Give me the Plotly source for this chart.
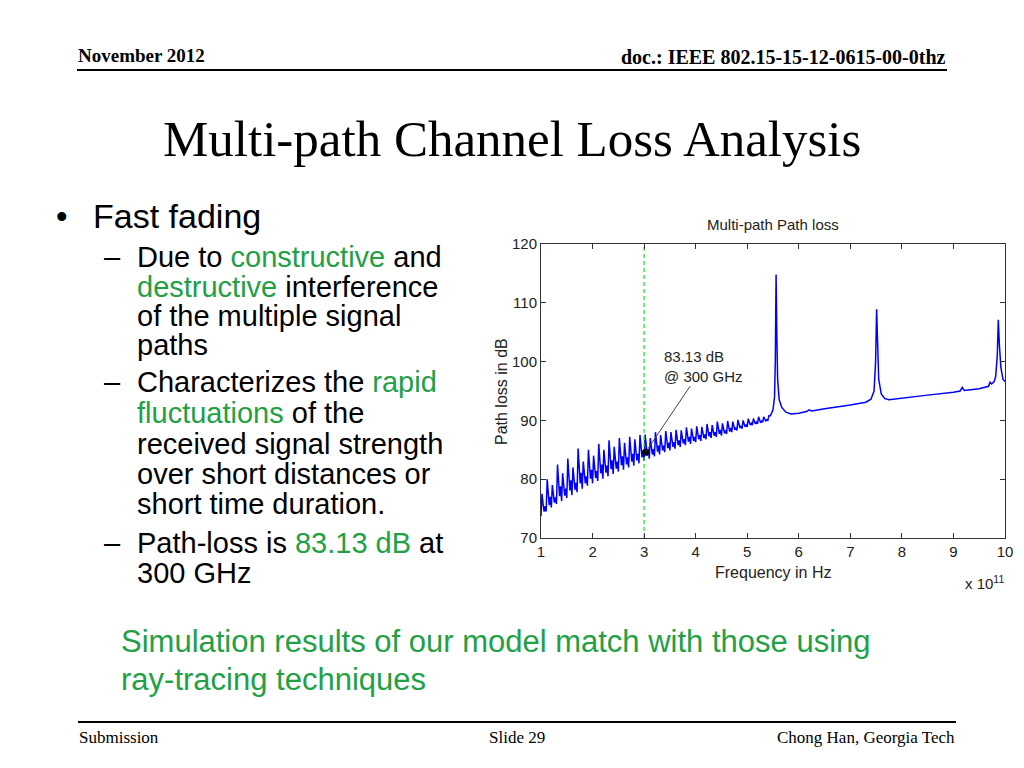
import plotly.graph_objects as go

# ---------------- data ----------------
# fast-fading region: samples every 0.02 (x 1e11 Hz) starting at 1.0
fade_start = 1.0
fade_step = 0.02
fade_y = [
    73.7, 77.5, 75.8, 74.5, 75.4,
    74.5, 80.0, 77.5, 75.6, 77.0,
    75.2, 79.0, 77.3, 76.0, 76.9,
    75.8, 82.5, 79.5, 77.1, 78.8,
    76.3, 81.0, 78.9, 77.2, 78.4,
    76.8, 83.5, 80.5, 78.1, 79.8,
    77.3, 82.0, 79.9, 78.2, 79.4,
    77.8, 85.2, 81.9, 79.3, 81.1,
    78.4, 83.0, 80.9, 79.3, 80.5,
    78.9, 85.0, 82.3, 80.1, 81.6,
    79.3, 84.0, 81.9, 80.2, 81.4,
    79.7, 86.0, 83.2, 81.0, 82.5,
    80.1, 85.0, 82.8, 81.1, 82.3,
    80.5, 86.6, 83.9, 81.7, 83.2,
    80.9, 85.5, 83.4, 81.8, 83.0,
    81.3, 87.0, 84.4, 82.4, 83.9,
    81.6, 86.2, 84.1, 82.5, 83.7,
    82.0, 87.2, 84.9, 83.0, 84.3,
    82.3, 86.8, 84.8, 83.2, 84.3,
    82.7, 87.5, 85.3, 83.7, 84.9,
    83.1, 87.6, 85.6, 84.0, 85.1,
    83.5, 87.0, 85.4, 84.2, 85.1,
    83.9, 88.0, 86.2, 84.7, 85.7,
    84.2, 87.5, 86.0, 84.9, 85.7,
    84.6, 88.2, 86.6, 85.3, 86.2,
    84.9, 88.0, 86.6, 85.5, 86.3,
    85.2, 88.4, 87.0, 85.8, 86.6,
    85.5, 88.3, 87.0, 86.1, 86.8,
    85.8, 88.8, 87.5, 86.4, 87.2,
    86.0, 88.6, 87.4, 86.5, 87.2,
    86.3, 89.0, 87.8, 86.8, 87.5,
    86.5, 88.9, 87.8, 87.0, 87.6,
    86.8, 89.4, 88.2, 87.3, 88.0,
    87.0, 89.2, 88.2, 87.4, 88.0,
    87.2, 89.8, 88.6, 87.7, 88.4,
    87.4, 89.5, 88.6, 87.8, 88.3,
    87.7, 89.9, 88.9, 88.1, 88.7,
    88.0, 89.8, 89.0, 88.4, 88.8,
    88.3, 90.1, 89.3, 88.7, 89.1,
    88.6, 90.0, 89.4, 88.9, 89.2,
    88.9, 90.3, 89.7, 89.2, 89.5,
    89.2, 90.3, 89.8, 89.4, 89.7,
    89.4, 90.6, 90.1, 89.6, 89.9,
    89.7, 90.6, 90.2, 89.9, 90.1,
    90.0, 90.8,
]

# remaining part of the curve (resonance peaks)
rest_x = [5.45, 5.50, 5.53, 5.545, 5.56, 5.575, 5.59, 5.62, 5.67, 5.75, 5.85,
          6.00, 6.15, 6.20, 6.25, 6.50, 7.00, 7.30, 7.40, 7.46, 7.49, 7.51,
          7.53, 7.55, 7.60, 7.67, 7.75, 8.00, 8.50, 9.00, 9.13, 9.17, 9.21,
          9.50, 9.68, 9.71, 9.74, 9.79, 9.82, 9.85, 9.87, 9.89, 9.92, 9.96, 10.0]
rest_y = [90.8, 91.8, 94.0, 100.0, 114.8, 104.0, 97.0, 93.5, 92.2, 91.4, 91.1,
          91.2, 91.5, 91.8, 91.6, 92.0, 92.6, 93.1, 93.6, 95.0, 100.0, 108.9,
          102.0, 97.0, 94.5, 93.7, 93.5, 93.8, 94.3, 94.8, 95.0, 95.6, 95.1,
          95.4, 95.8, 96.5, 96.2, 96.6, 97.5, 101.0, 107.1, 103.0, 99.0, 97.0, 96.6]

marker_x = [3.03]
marker_y = [84.6]
marker_text = "83.13 dB<br>@ 300 GHz"
vline_x = 3.0

x_ticks = [1, 2, 3, 4, 5, 6, 7, 8, 9, 10]
y_ticks = [70, 80, 90, 100, 110, 120]

# ---------------- build ----------------
xs = [round(fade_start + fade_step * i, 4) for i in range(len(fade_y))] + rest_x
ys = fade_y + rest_y

# the page body has an 8px margin: the figure is placed at (8, 8)
OFF = 8
W, H = 1024 - 2 * OFF, 768 - 2 * OFF
def px(x):
    return (x - OFF) / W
def py(y):
    return 1 - (y - OFF) / H

GREEN = "#22a045"
SANS = "Liberation Sans, Arial, sans-serif"
SERIF = "Liberation Serif, Times New Roman, serif"

fig = go.Figure()
fig.add_trace(go.Scatter(x=xs, y=ys, mode="lines",
                         line=dict(color="#0000ff", width=1.5),
                         showlegend=False, hoverinfo="skip"))
fig.add_trace(go.Scatter(x=[vline_x, vline_x], y=[70, 120], mode="lines",
                         line=dict(color="#22dd22", width=1.2, dash="4px,3px"),
                         showlegend=False, hoverinfo="skip"))
fig.add_trace(go.Scatter(x=marker_x, y=marker_y, mode="markers",
                         marker=dict(color="black", size=7),
                         showlegend=False, hoverinfo="skip"))

ann = []
# data tip
ann.append(dict(x=marker_x[0], y=marker_y[0], xref="x", yref="y",
                text=marker_text, showarrow=True, arrowhead=0, arrowwidth=1,
                arrowcolor="#444", ax=58, ay=-86, align="left",
                font=dict(family=SANS, size=15, color="#222")))

def text(xp, yp, s, size, family=SANS, color="black", xanchor="left", bold=False):
    if bold:
        s = "<b>" + s + "</b>"
    ann.append(dict(x=px(xp), y=py(yp), xref="paper", yref="paper", text=s,
                    showarrow=False, xanchor=xanchor, yanchor="middle",
                    font=dict(family=family, size=size, color=color)))

def g(s):
    return f"<span style='color:{GREEN}'>{s}</span>"

# header
text(76, 55, "November 2012", 19, SERIF, bold=True)
text(948, 57, "doc.: IEEE 802.15-15-12-0615-00-0thz", 20, SERIF, xanchor="right", bold=True)
# title
text(512, 139, "Multi-path Channel Loss Analysis", 51, SERIF, xanchor="center")

# bullets
text(54, 216, "•", 33)
text(91, 216, "Fast fading", 34)
SUB = 29
for yb in (266, 391, 552):
    text(102, yb - 9, "–", SUB)
lines = [
    ("Due to " + g("constructive") + " and", 266),
    (g("destructive") + " interference", 296),
    ("of the multiple signal", 325),
    ("paths", 354),
    ("Characterizes the " + g("rapid"), 391),
    (g("fluctuations") + " of the", 422),
    ("received signal strength", 453),
    ("over short distances or", 483),
    ("short time duration.", 513),
    ("Path-loss is " + g("83.13 dB") + " at", 552),
    ("300 GHz", 582),
]
for s, yb in lines:
    text(135, yb - 9, s, SUB)

text(119, 641, g("Simulation results of our model match with those using"), 31)
text(119, 679, g("ray-tracing techniques"), 31)

# footer
text(77, 737, "Submission", 17, SERIF)
text(517, 737, "Slide 29", 17, SERIF, xanchor="center")
text(957, 737, "Chong Han, Georgia Tech", 17, SERIF, xanchor="right")

# chart texts
text(773, 224, "Multi-path Path loss", 15, SANS, color="#222", xanchor="center")
text(773, 572, "Frequency in Hz", 16, SANS, color="#222", xanchor="center")
text(963, 582, "x 10<sup>11</sup>", 15, SANS, color="#222")
ann.append(dict(x=px(502), y=py(392), xref="paper", yref="paper",
                text="Path loss in dB", textangle=-90, showarrow=False,
                xanchor="center", yanchor="middle",
                font=dict(family=SANS, size=16, color="#222")))

shapes = [
    dict(type="line", xref="paper", yref="paper", x0=px(77), x1=px(947),
         y0=py(70), y1=py(70), line=dict(color="black", width=2)),
    dict(type="line", xref="paper", yref="paper", x0=px(78), x1=px(956),
         y0=py(722), y1=py(722), line=dict(color="black", width=2)),
]

axis_common = dict(showline=True, linecolor="#333", linewidth=1, mirror="ticks",
                   ticks="inside", ticklen=5, tickcolor="#333", showgrid=False,
                   zeroline=False, tickfont=dict(family=SANS, size=15, color="#222"))

fig.update_layout(
    width=W, height=H, margin=dict(l=0, r=0, t=0, b=0, pad=0, autoexpand=False),
    paper_bgcolor="white", plot_bgcolor="white",
    xaxis=dict(domain=[px(541), px(1005)], range=[1, 10], tickvals=x_ticks, **axis_common),
    yaxis=dict(domain=[py(538), py(244)], range=[70, 120], tickvals=y_ticks, **axis_common),
    annotations=ann, shapes=shapes, showlegend=False,
)

fig.write_html("out.html")
